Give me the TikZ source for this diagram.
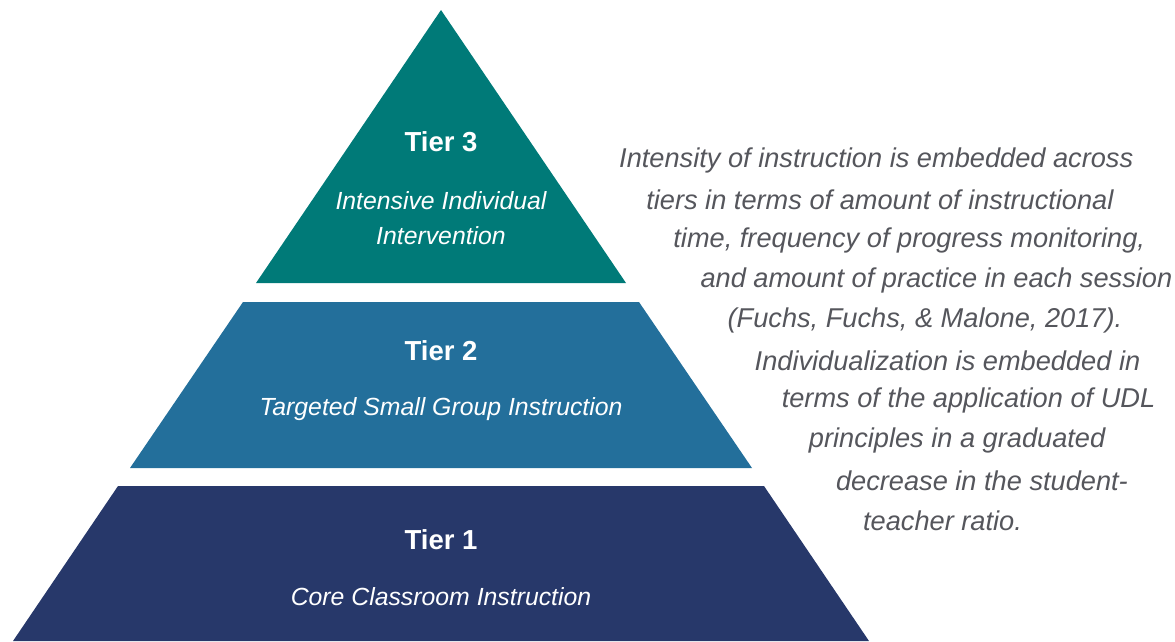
\documentclass[tikz,border=0pt]{standalone}
\usepackage{fontspec}
\setmainfont{Liberation Sans}
\usetikzlibrary{calc}

\definecolor{tealtier}{RGB}{0,122,120}
\definecolor{bluetier}{RGB}{35,111,155}
\definecolor{navytier}{RGB}{39,56,106}
\definecolor{textgray}{RGB}{85,86,92}

\begin{document}
\begin{tikzpicture}[x=1pt,y=-1pt,
    tiertitle/.style={text=white,font=\bfseries\fontsize{27.5}{32}\selectfont},
    tiertext/.style={text=white,font=\itshape\fontsize{24.8}{35}\selectfont,align=center},
    sidetext/.style={text=textgray,font=\itshape\fontsize{27.2}{32}\selectfont,anchor=west,inner sep=0pt}]
    \useasboundingbox (0,0) rectangle (1175,641);
    % pyramid
    \fill[tealtier] (441,10) -- (626,283) -- (256,283) -- cycle;
    \fill[bluetier] (243,302) -- (639,302) -- (752,468) -- (130,468) -- cycle;
    \fill[navytier] (118,486) -- (764,486) -- (869,641) -- (13,641) -- cycle;
    \node[tiertitle] (tier3) at (441,142) {Tier 3};
    \node[tiertext] (tier3txt) at (441,218) {Intensive Individual\\Intervention};
    \node[tiertitle] (tier2) at (441,351) {Tier 2};
    \node[tiertext] (tier2txt) at (441,409) {Targeted Small Group Instruction};
    \node[tiertitle] (tier1) at (441,540) {Tier 1};
    \node[tiertext] (tier1txt) at (441,597) {Core Classroom Instruction};
    % side text, stepped along the slope
    \foreach \ln [count=\i from 0] in {
        {Intensity of instruction is embedded across},
        {tiers in terms of amount of instructional},
        {time, frequency of progress monitoring,},
        {and amount of practice in each session},
        {(Fuchs, Fuchs, \& Malone, 2017).},
        {Individualization is embedded in},
        {terms of the application of UDL},
        {principles in a graduated},
        {decrease in the student-},
        {teacher ratio.}}
        \node[sidetext] (side\i) at ({619+27.1*\i},{160+40.1*\i}) {\ln};
\end{tikzpicture}
\end{document}
